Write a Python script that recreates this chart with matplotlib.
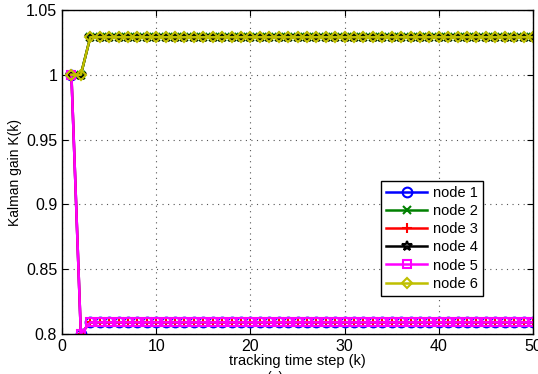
import numpy as np
import matplotlib
matplotlib.use('Agg')
import matplotlib.pyplot as plt

steps = np.arange(1, 51)
upper = [1.0, 1.0] + [1.029] * 48
lower = [1.0, 0.8] + [0.809] * 48

node_names = ['node 1', 'node 2', 'node 3', 'node 4', 'node 5', 'node 6']
node_colors = ['#0000ff', '#008000', '#ff0000', '#000000', '#ff00ff', '#bfbf00']
node_markers = ['o', 'x', '+', '*', 's', 'D']
node_series = [lower, upper, lower, upper, lower, upper]
marker_sizes = [7, 6, 7, 7, 6, 5.5]

plt.rcParams['font.family'] = ['Liberation Sans', 'DejaVu Sans']
fig = plt.figure(figsize=(5.38, 3.74), dpi=100)
ax = fig.add_axes([62 / 538, 1 - 334 / 374, 471 / 538, 324 / 374])

for name, c, m, vals, ms in zip(node_names, node_colors, node_markers, node_series, marker_sizes):
    ax.plot(steps, vals, color=c, marker=m, markersize=ms, linewidth=1.8,
            markerfacecolor='none', markeredgewidth=1.5, label=name)

ax.set_xlim(0, 50)
ax.set_ylim(0.8, 1.05)
ax.set_xticks([0, 10, 20, 30, 40, 50])
ax.set_yticks([0.8, 0.85, 0.9, 0.95, 1.0, 1.05])
ax.set_yticklabels(['0.8', '0.85', '0.9', '0.95', '1', '1.05'])
ax.tick_params(direction='in', top=True, right=True, labelsize=11.5, length=4)
ax.grid(True, linestyle=(0, (1, 4)), color='#555555', linewidth=0.8)
for s in ax.spines.values():
    s.set_linewidth(1.0)

ax.set_xlabel('tracking time step (k)', fontsize=10.5, labelpad=0)
ax.set_ylabel('Kalman gain K(k)', fontsize=10, labelpad=3)

leg = ax.legend(loc='center right', bbox_to_anchor=(0.909, 0.295), fontsize=10.5,
                fancybox=False, edgecolor='black', framealpha=1,
                handlelength=2.8, borderpad=0.35, labelspacing=0.28, handletextpad=0.4)
leg.get_frame().set_linewidth(1.0)

fig.text(0.51, -0.012, '(a)', ha='center', va='center', fontsize=10)

fig.savefig('out.png', dpi=100)
